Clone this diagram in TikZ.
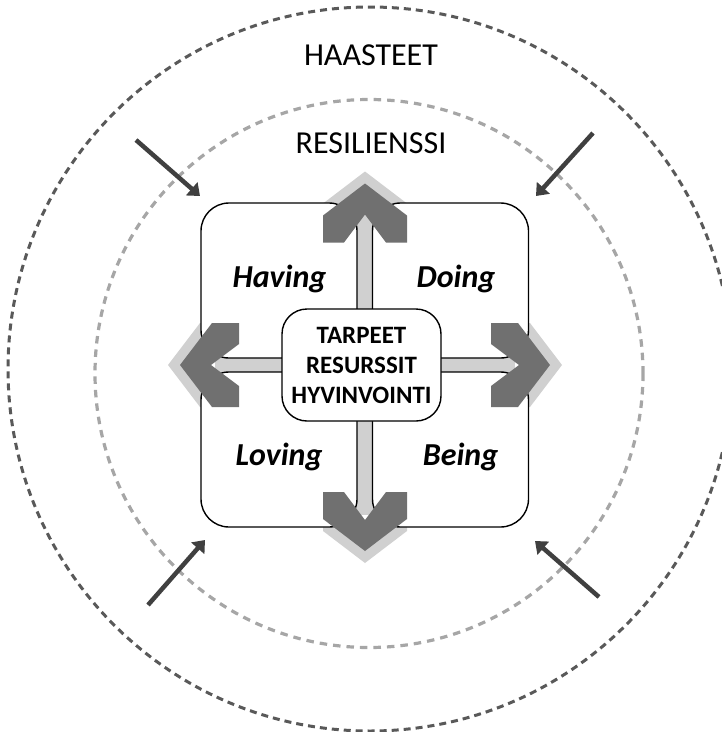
\documentclass[tikz,border=0pt]{standalone}
\usepackage{fontspec}
\setmainfont{Carlito}
\usetikzlibrary{arrows.meta}
\definecolor{ring}{HTML}{595959}
\definecolor{ringlt}{HTML}{A6A6A6}
\definecolor{chev}{HTML}{707070}
\definecolor{halo}{HTML}{D0D0D0}
\definecolor{pushc}{HTML}{404040}

\begin{document}
\begin{tikzpicture}[x=1pt,y=-1pt,
  quad/.style={draw,line width=1.4pt,fill=white,rounded corners=28pt,minimum width=156pt,minimum height=155pt,inner sep=0pt},
  word/.style={anchor=base,font=\bfseries\itshape\fontsize{32}{38}\selectfont},
  title/.style={font=\fontsize{32}{38}\selectfont},
  push/.style={pushc,line width=4.5pt,-{Triangle[length=11pt,width=17pt]}}]
  \useasboundingbox (0,0) rectangle (722,732);
  % outer and inner ring
  \draw[ring,line width=3pt,dash pattern=on 7pt off 5pt] (370,369) circle[radius=362];
  \draw[ringlt,line width=3.2pt,dash pattern=on 7.5pt off 6pt] (369,373.5) circle[radius=274];
  \node[title] (haasteet) at (371,55) {HAASTEET};
  \node[title] (resilienssi) at (371,143) {RESILIENSSI};
  % light halo behind the four heads
  \foreach \a/\hx/\hy in {0/365/183.5,90/180/365,180/365/551,270/550/365}
    \fill[halo,shift={(\hx,\hy)},rotate=\a] (0,-12) -- (-42,20) -- (-42,47) -- (-21,47) -- (0,19) -- (21,47) -- (42,47) -- (42,20) -- cycle;
  \fill[halo] (345,215) rectangle (385,515);
  \fill[halo] (215,353) rectangle (515,377);
  \node[quad] (having) at (279,280.5) {};
  \node[quad] (doing) at (450.5,280.5) {};
  \node[quad] (loving) at (279,449.5) {};
  \node[quad] (being) at (450.5,449.5) {};
  % dark heads
  \foreach \a/\hx/\hy in {0/365/183.5,90/180/365,180/365/551,270/550/365}
    \fill[chev,shift={(\hx,\hy)},rotate=\a] (0,0) -- (-42,32) -- (-42,59) -- (-21,59) -- (0,31) -- (21,59) -- (42,59) -- (42,32) -- cycle;
  \node[draw,line width=1.4pt,fill=white,rounded corners=25pt,minimum width=159pt,minimum height=112pt,inner sep=0pt,
    align=center,font=\bfseries\fontsize{25}{30}\selectfont] (core) at (361.5,365) {TARPEET\\RESURSSIT\\HYVINVOINTI};
  \node[word] (having-w) at (279.5,287) {Having};
  \node[word] (doing-w) at (456,287) {Doing};
  \node[word] (loving-w) at (279,465) {Loving};
  \node[word] (being-w) at (460.5,465) {Being};
  % pressure from outside
  \coordinate (nw0) at (136,140); \coordinate (nw1) at (200,196);
  \coordinate (ne0) at (593,133); \coordinate (ne1) at (536,196);
  \coordinate (sw0) at (148,605); \coordinate (sw1) at (205,540);
  \coordinate (se0) at (599,597); \coordinate (se1) at (535,541);
  \foreach \p in {nw,ne,sw,se}
    \draw[push] (\p0) -- (\p1);
\end{tikzpicture}
\end{document}
